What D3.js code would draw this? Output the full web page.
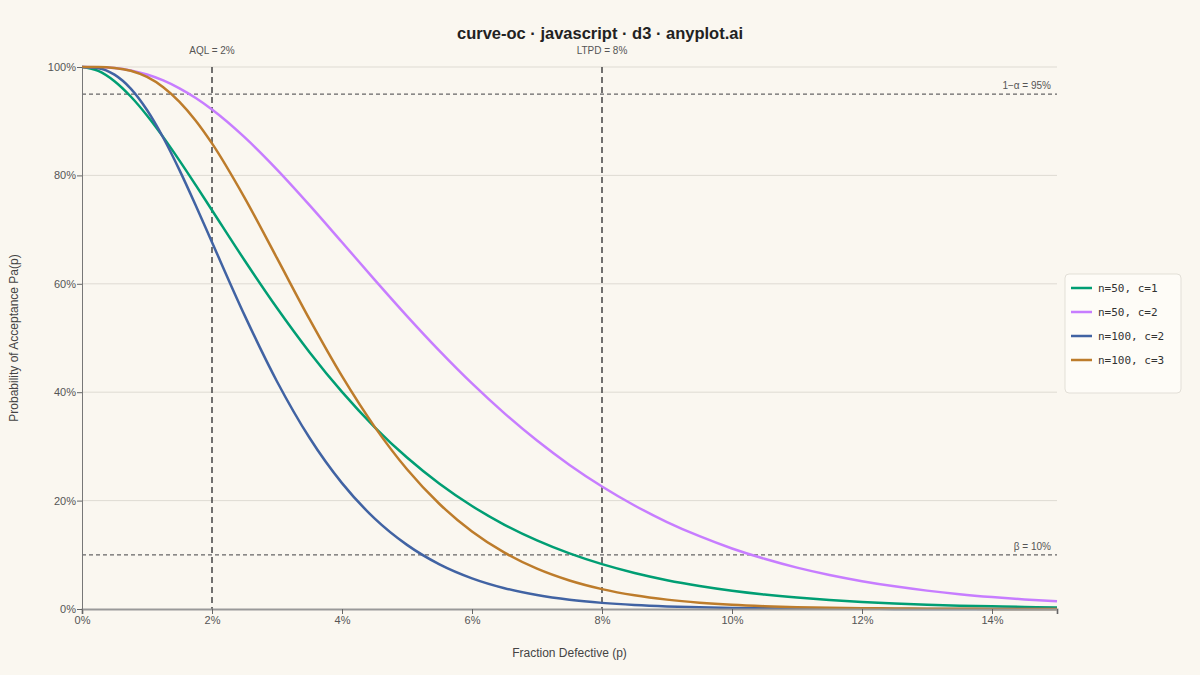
<!DOCTYPE html>
<html>
<head>
<meta charset="utf-8">
<script src="https://cdn.jsdelivr.net/npm/d3@7"></script>
<style>
  html, body { margin: 0; padding: 0; background: #faf7f0; }
  #chart { width: 1200px; height: 675px; }
</style>
</head>
<body>
<div id="chart"></div>
<script>
// OC curves for four single sampling plans

const pValues = [0, 0.0025, 0.005, 0.0075, 0.01, 0.0125, 0.015, 0.0175, 0.02, 0.025, 0.03, 0.035, 0.04, 0.045, 0.05,
    0.055, 0.06, 0.065, 0.07, 0.075, 0.08, 0.085, 0.09, 0.095, 0.10,
    0.105, 0.11, 0.115, 0.12, 0.125, 0.13, 0.135, 0.14, 0.145, 0.15];

const paN50C1 = [1, 0.9929, 0.9739, 0.9456, 0.9106, 0.8706, 0.8273, 0.7820, 0.7358, 0.6435, 0.5553, 0.4738, 0.4005, 0.3357, 0.2794,
    0.2311, 0.1900, 0.1554, 0.1265, 0.1025, 0.0827, 0.0665, 0.0532, 0.0425, 0.0338,
    0.0268, 0.0212, 0.0167, 0.0131, 0.0103, 0.0080, 0.0062, 0.0049, 0.0038, 0.0029];

const paN50C2 = [1, 0.9997, 0.9980, 0.9936, 0.9862, 0.9753, 0.9607, 0.9428, 0.9216, 0.8706, 0.8108, 0.7452, 0.6767, 0.6078, 0.5405,
    0.4763, 0.4162, 0.3610, 0.3108, 0.2658, 0.2260, 0.1910, 0.1605, 0.1343, 0.1117,
    0.0926, 0.0763, 0.0627, 0.0513, 0.0418, 0.0339, 0.0274, 0.0221, 0.0177, 0.0142];

const paN100C2 = [1, 0.9979, 0.9859, 0.9601, 0.9206, 0.8695, 0.8098, 0.7446, 0.6767, 0.5422, 0.4198, 0.3159, 0.2322, 0.1672, 0.1183,
    0.0824, 0.0566, 0.0384, 0.0258, 0.0171, 0.0113, 0.0074, 0.0048, 0.0031, 0.0019,
    0.0012, 0.0008, 0.0005, 0.0003, 0.0002, 0.0001, 0.0001, 0, 0, 0];

const paN100C3 = [1, 0.9999, 0.9983, 0.9930, 0.9816, 0.9628, 0.9358, 0.9009, 0.8590, 0.7590, 0.6473, 0.5347, 0.4295, 0.3365, 0.2578,
    0.1937, 0.1430, 0.1039, 0.0744, 0.0526, 0.0367, 0.0253, 0.0173, 0.0117, 0.0078,
    0.0052, 0.0034, 0.0022, 0.0015, 0.0009, 0.0006, 0.0004, 0.0002, 0.0002, 0.0001];

const planLabels = ['n=50, c=1', 'n=50, c=2', 'n=100, c=2', 'n=100, c=3'];
const planColors = ['#009e73', '#c77dff', '#4163a3', '#bd7c2b'];
const planValues = [paN50C1, paN50C2, paN100C2, paN100C3];

const xTicks = [0, 0.02, 0.04, 0.06, 0.08, 0.10, 0.12, 0.14];
const yTicks = [0, 0.2, 0.4, 0.6, 0.8, 1.0];

const aqlValue = 0.02, ltpdValue = 0.08;
const alphaLevel = 0.95, betaLevel = 0.10;

const width = 1200, height = 675;
const margin = { top: 67, right: 143, bottom: 66, left: 82 };
const FONT = '"Liberation Sans", Arial, sans-serif';

const svg = d3.select('#chart').append('svg')
    .attr('width', width).attr('height', height)
    .style('background', '#faf7f0');

const x = d3.scaleLinear().domain([0, 0.15]).range([margin.left, width - margin.right]);
const y = d3.scaleLinear().domain([0, 1]).range([height - margin.bottom, margin.top]);

// Title
svg.append('text')
    .attr('x', 600).attr('y', 39)
    .attr('text-anchor', 'middle')
    .attr('font-family', FONT).attr('font-size', '16.5px').attr('font-weight', '700')
    .attr('fill', '#222')
    .text('curve-oc · javascript · d3 · anyplot.ai');

// Horizontal grid
svg.append('g').selectAll('line').data(yTicks.filter(d => d > 0)).join('line')
    .attr('x1', x(0)).attr('x2', x(0.15))
    .attr('y1', d => y(d)).attr('y2', d => y(d))
    .attr('stroke', '#dedbd3').attr('stroke-width', 1);

// Reference lines: 1-alpha and beta
const hRefs = [
    { v: alphaLevel, label: '1−α = 95%' },
    { v: betaLevel, label: 'β = 10%' }
];
svg.append('g').selectAll('line').data(hRefs).join('line')
    .attr('x1', x(0)).attr('x2', x(0.15))
    .attr('y1', d => y(d.v)).attr('y2', d => y(d.v))
    .attr('stroke', '#666').attr('stroke-width', 1.2)
    .attr('stroke-dasharray', '4,3');
svg.append('g').selectAll('text').data(hRefs).join('text')
    .attr('x', x(0.15) - 6).attr('y', d => y(d.v) - 5)
    .attr('text-anchor', 'end')
    .attr('font-family', FONT).attr('font-size', '10px').attr('fill', '#555')
    .text(d => d.label);

// Reference lines: AQL and LTPD
const vRefs = [
    { v: aqlValue, label: 'AQL = 2%' },
    { v: ltpdValue, label: 'LTPD = 8%' }
];
svg.append('g').selectAll('line').data(vRefs).join('line')
    .attr('x1', d => x(d.v)).attr('x2', d => x(d.v))
    .attr('y1', y(1)).attr('y2', y(0))
    .attr('stroke', '#444').attr('stroke-width', 1.5)
    .attr('stroke-dasharray', '6,4');
svg.append('g').selectAll('text').data(vRefs).join('text')
    .attr('x', d => x(d.v)).attr('y', y(1) - 13)
    .attr('text-anchor', 'middle')
    .attr('font-family', FONT).attr('font-size', '10px').attr('fill', '#555')
    .text(d => d.label);

// Curves
const line = d3.line()
    .x(d => x(d[0])).y(d => y(d[1]))
    .curve(d3.curveMonotoneX);

svg.append('g').selectAll('path').data(planValues).join('path')
    .attr('fill', 'none')
    .attr('stroke', (d, i) => planColors[i])
    .attr('stroke-width', 2.5)
    .attr('d', vals => line(pValues.map((p, i) => [p, vals[i]])));

// Axes
const pct = d3.format('.0%');
const xAxis = svg.append('g')
    .attr('transform', `translate(0,${y(0)})`)
    .call(d3.axisBottom(x).tickValues(xTicks.concat([0.15])).tickFormat(d => d === 0.15 ? '' : pct(d)).tickSizeOuter(0).tickSize(5));
xAxis.select('.domain').attr('stroke', '#999').attr('stroke-width', 2);

const yAxis = svg.append('g')
    .attr('transform', `translate(${x(0)},0)`)
    .call(d3.axisLeft(y).tickValues(yTicks).tickFormat(pct).tickSizeOuter(0).tickSize(5));
yAxis.select('.domain').attr('stroke', '#777').attr('stroke-width', 1);

[xAxis, yAxis].forEach(a => {
    a.selectAll('.tick line').attr('stroke', '#666');
    a.selectAll('.tick text')
        .attr('font-family', FONT).attr('font-size', '11px').attr('fill', '#555');
});
xAxis.selectAll('.tick text').attr('y', 7);
yAxis.selectAll('.tick text').attr('x', -6);

// Axis titles
svg.append('text')
    .attr('x', (x(0) + x(0.15)) / 2).attr('y', 657)
    .attr('text-anchor', 'middle')
    .attr('font-family', FONT).attr('font-size', '12px').attr('fill', '#444')
    .text('Fraction Defective (p)');

svg.append('text')
    .attr('transform', `translate(18,${(y(0) + y(1)) / 2}) rotate(-90)`)
    .attr('text-anchor', 'middle')
    .attr('font-family', FONT).attr('font-size', '12px').attr('fill', '#444')
    .text('Probability of Acceptance Pa(p)');

// Legend
const legend = svg.append('g').attr('transform', 'translate(1065,274)');
legend.append('rect')
    .attr('width', 116).attr('height', 119).attr('rx', 4)
    .attr('fill', '#fefcf7').attr('stroke', '#e2dfd7');
const items = legend.selectAll('g.item').data(planLabels).join('g')
    .attr('class', 'item')
    .attr('transform', (d, i) => `translate(6,${14 + i * 24})`);
items.append('line')
    .attr('x1', 0).attr('x2', 21)
    .attr('stroke', (d, i) => planColors[i]).attr('stroke-width', 2.5);
items.append('text')
    .attr('x', 27).attr('y', 0).attr('dy', '0.35em')
    .attr('font-family', '"DejaVu Sans Mono", monospace').attr('font-size', '11px')
    .attr('fill', '#333')
    .text(d => d);
</script>
</body>
</html>
